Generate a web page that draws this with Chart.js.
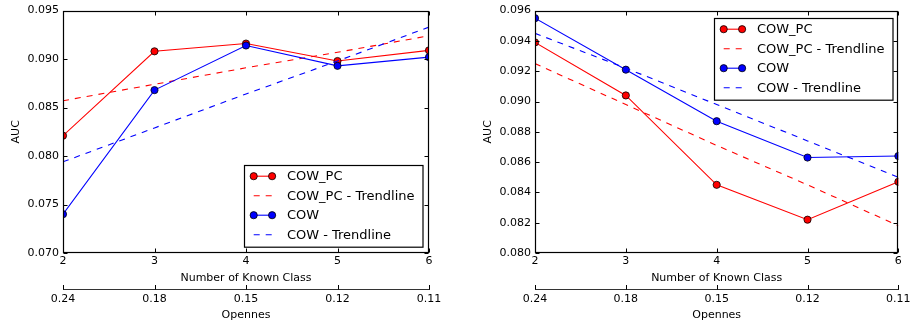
<!DOCTYPE html>
<html>
<head>
<meta charset="utf-8">
<script src="https://cdn.jsdelivr.net/npm/chart.js@4/dist/chart.umd.min.js"></script>
<style>
  html, body { margin: 0; padding: 0; background: #fff; overflow: hidden; }
  .wrap { position: absolute; top: 0; width: 457px; height: 326px; }
</style>
</head>
<body>
<div class="wrap" style="left:0"><canvas id="c1" width="457" height="326"></canvas></div>
<div class="wrap" style="left:457px"><canvas id="c2" width="457" height="326"></canvas></div>
<script>
// ---- data ----
const knownClasses = ["2", "3", "4", "5", "6"];
const openness = ["0.24", "0.18", "0.15", "0.12", "0.11"];

const leftYTicks = [0.070, 0.075, 0.080, 0.085, 0.090, 0.095];
const leftCowPc = [0.0821, 0.0908, 0.0916, 0.0898, 0.0909];
const leftCowPcTrend = [0.0857, 0.0874, 0.0891, 0.0907, 0.0924];
const leftCow = [0.0740, 0.0868, 0.0914, 0.0893, 0.0902];
const leftCowTrend = [0.0794, 0.0829, 0.0864, 0.0898, 0.0933];

const rightYTicks = [0.080, 0.082, 0.084, 0.086, 0.088, 0.090, 0.092, 0.094, 0.096];
const rightCowPc = [0.0939, 0.0904, 0.0845, 0.0822, 0.0847];
const rightCowPcTrend = [0.0925, 0.0898, 0.0871, 0.0845, 0.0818];
const rightCow = [0.0955, 0.0921, 0.0887, 0.0863, 0.0864];
const rightCowTrend = [0.0945, 0.0922, 0.0898, 0.0874, 0.0850];

const seriesNames = ["COW_PC", "COW_PC - Trendline", "COW", "COW - Trendline"];

// ---- style ----
Chart.defaults.font.family = "'DejaVu Sans', sans-serif";
Chart.defaults.font.size = 11;
Chart.defaults.color = "#000";

const RED = "#ff0000", BLUE = "#0000ff";

function makeDatasets(pc, pcTrend, cow, cowTrend) {
  const solid = (label, data, color, order) => ({
    label, data, borderColor: color, backgroundColor: color,
    borderWidth: 1.1, pointRadius: 3.6, pointBorderColor: "#000", pointBorderWidth: 0.8,
    pointBackgroundColor: color, tension: 0, clip: 0, order, _marker: true
  });
  const dashed = (label, data, color, order) => ({
    label, data, borderColor: color, borderWidth: 1.1, borderDash: [6, 6],
    pointRadius: 0, tension: 0, clip: 0, order, _marker: false
  });
  return [
    solid(seriesNames[0], pc, RED, 4),
    dashed(seriesNames[1], pcTrend, RED, 3),
    solid(seriesNames[2], cow, BLUE, 2),
    dashed(seriesNames[3], cowTrend, BLUE, 1)
  ];
}

// frame, inward ticks, secondary-axis ticks, in-plot legend
const mplPlugin = {
  id: "mpl",
  afterDatasetsDraw(chart, args, opts) {
    const ctx = chart.ctx, ca = chart.chartArea;
    const xs = chart.scales.x, ys = chart.scales.y, x2 = chart.scales.x2;
    ctx.save();
    ctx.strokeStyle = "#000";
    ctx.lineWidth = 1;
    ctx.setLineDash([]);
    const L = Math.round(ca.left) + 0.5, R = Math.round(ca.right) - 0.5;
    const T = Math.round(ca.top) + 0.5, B = Math.round(ca.bottom) - 0.5;
    ctx.beginPath();
    ys.ticks.forEach(t => {
      const py = Math.round(ys.getPixelForValue(t.value)) + 0.5;
      ctx.moveTo(L, py); ctx.lineTo(L + 4, py);
      ctx.moveTo(R, py); ctx.lineTo(R - 4, py);
    });
    xs.ticks.forEach((t, i) => {
      const px = Math.round(xs.getPixelForValue(i)) + 0.5;
      ctx.moveTo(px, B); ctx.lineTo(px, B - 4);
      ctx.moveTo(px, T); ctx.lineTo(px, T + 4);
    });
    const y2 = Math.round(x2.top) + 0.5;
    x2.ticks.forEach((t, i) => {
      const px = Math.round(x2.getPixelForValue(i)) + 0.5;
      ctx.moveTo(px, y2); ctx.lineTo(px, y2 - 4.5);
    });
    ctx.stroke();
    ctx.lineWidth = 1.2;
    ctx.strokeRect(L, T, R - L, B - T);

    // legend
    const w = 178.5, h = 81.7;
    const x0 = Math.round(ca.right - 6.3 - w) + 0.5;
    const y0 = Math.round(opts.corner === "bottom" ? ca.bottom - 6.6 - h : ca.top + 7) + 0.5;
    ctx.fillStyle = "#fff";
    ctx.fillRect(x0, y0, w, h);
    ctx.lineWidth = 1.2;
    ctx.strokeStyle = "#000";
    ctx.strokeRect(x0, y0, w, h);
    chart.data.datasets.forEach((ds, i) => {
      const cy = y0 + 10.7 + i * 19.5;
      const a = x0 + 9.2, b = x0 + 27.6;
      ctx.strokeStyle = ds.borderColor;
      ctx.lineWidth = 1.1;
      ctx.setLineDash(ds._marker ? [] : [6, 6]);
      ctx.beginPath(); ctx.moveTo(a, cy); ctx.lineTo(b, cy); ctx.stroke();
      ctx.setLineDash([]);
      if (ds._marker) {
        [a, b].forEach(px => {
          ctx.beginPath(); ctx.arc(px, cy, 3.6, 0, Math.PI * 2);
          ctx.fillStyle = ds.borderColor; ctx.fill();
          ctx.lineWidth = 0.8; ctx.strokeStyle = "#000"; ctx.stroke();
        });
      }
      ctx.fillStyle = "#000";
      ctx.font = "13px 'DejaVu Sans', sans-serif";
      ctx.textBaseline = "middle";
      ctx.textAlign = "left";
      ctx.fillText(ds.label, x0 + 42.4, cy + 0.5);
    });
    ctx.restore();
  }
};

function makeChart(id, datasets, yTicks, yWidth, padRight, titlePad, corner) {
  return new Chart(document.getElementById(id), {
    type: "line",
    data: { labels: knownClasses, datasets },
    plugins: [mplPlugin],
    options: {
      responsive: false,
      animation: false,
      events: [],
      layout: { padding: { left: 0, right: padRight, top: 9, bottom: 0 } },
      plugins: { legend: { display: false }, tooltip: { enabled: false }, mpl: { corner } },
      scales: {
        x: {
          type: "category", offset: false, weight: 0,
          grid: { display: false, drawTicks: false }, border: { display: false },
          ticks: { padding: 2, maxRotation: 0, autoSkip: false },
          title: { display: true, text: "Number of Known Class", padding: { top: 0, bottom: 4.4 } },
          afterFit: s => { s.height = 36; }
        },
        x2: {
          type: "category", labels: openness, position: "bottom", offset: false, weight: 1,
          grid: { display: false, drawTicks: false },
          border: { display: true, color: "#333", width: 1 },
          ticks: { padding: 3.4, maxRotation: 0, autoSkip: false },
          title: { display: true, text: "Opennes", padding: { top: 0, bottom: 4.4 } },
          afterFit: s => { s.height = 37; }
        },
        y: {
          type: "linear", min: yTicks[0], max: yTicks[yTicks.length - 1],
          grid: { display: false, drawTicks: false }, border: { display: false },
          afterBuildTicks: s => { s.ticks = yTicks.map(v => ({ value: v })); },
          ticks: { padding: 4, callback: v => Number(v).toFixed(3) },
          title: { display: true, text: "AUC", padding: { top: titlePad, bottom: 0 } },
          afterFit: s => { s.width = yWidth; }
        }
      }
    }
  });
}

makeChart("c1", makeDatasets(leftCowPc, leftCowPcTrend, leftCow, leftCowTrend),
  leftYTicks, 63, 28, 9.4, "bottom");
makeChart("c2", makeDatasets(rightCowPc, rightCowPcTrend, rightCow, rightCowTrend),
  rightYTicks, 78, 13, 24.4, "top");
</script>
</body>
</html>
